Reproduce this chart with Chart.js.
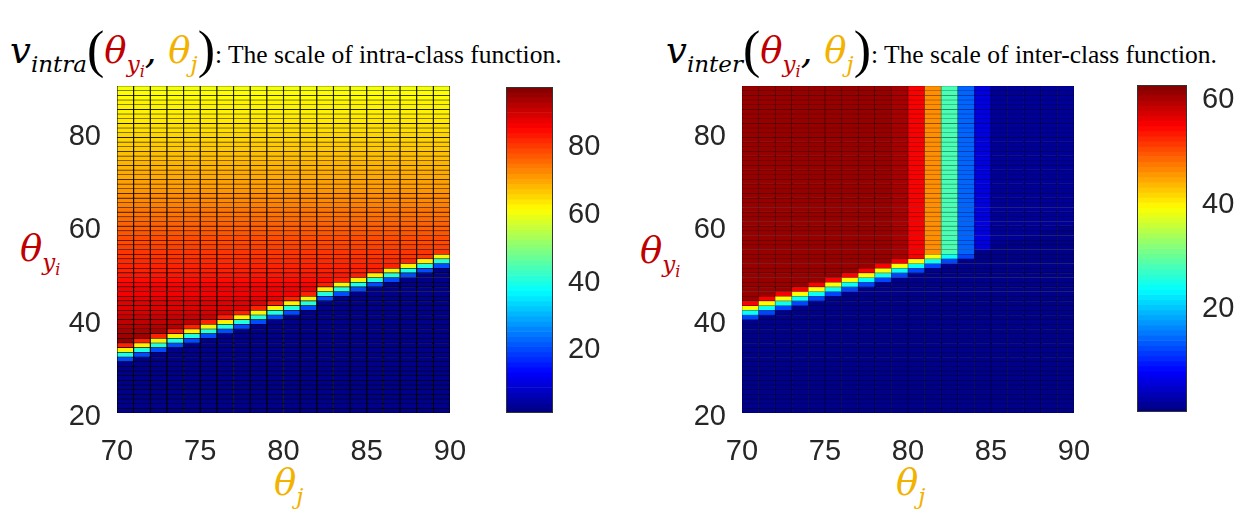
<!DOCTYPE html>
<html>
<head>
<meta charset="utf-8">
<script src="https://cdn.jsdelivr.net/npm/chart.js@4.4.1/dist/chart.umd.min.js"></script>
<style>
  html, body { margin:0; padding:0; background:#fff; }
  body { width:1252px; height:531px; position:relative; overflow:hidden; }
  canvas { position:absolute; }
  .ttl { position:absolute; white-space:nowrap; color:#000; line-height:1; }
  .m { font-family:'DejaVu Serif', serif; font-style:italic; }
  .big { font-size:37px; }
  .sb { font-size:23px; position:relative; top:9px; }
  .ssb { font-size:16px; position:relative; top:5px; }
  .par { font-family:'Liberation Serif', serif; font-size:52px; position:relative; top:4px; }
  .txt { font-family:'Liberation Serif', 'Times New Roman', serif; font-size:25.5px; }
  .red { color:#C00000; }
  .gold { color:#F2B200; }
  .lab { position:absolute; white-space:nowrap; line-height:1; }
</style>
</head>
<body>

<div class="ttl" style="left:10px;top:20px">
  <span class="m big">v</span><span class="m sb">intra</span><span class="par">(</span><span class="m big red">θ</span><span class="m sb red">y<span class="ssb">i</span></span><span class="m big">, </span><span class="m big gold">θ</span><span class="m sb gold">j</span><span class="par">)</span><span class="txt">: The scale of intra-class function.</span>
</div>
<div class="ttl" style="left:666px;top:20px">
  <span class="m big">v</span><span class="m sb">inter</span><span class="par">(</span><span class="m big red">θ</span><span class="m sb red">y<span class="ssb">i</span></span><span class="m big">, </span><span class="m big gold">θ</span><span class="m sb gold">j</span><span class="par">)</span><span class="txt">: The scale of inter-class function.</span>
</div>

<div class="lab m red" style="left:20px;top:230px"><span class="big">θ</span><span class="sb">y<span class="ssb">i</span></span></div>
<div class="lab m red" style="left:640px;top:232px"><span class="big">θ</span><span class="sb">y<span class="ssb">i</span></span></div>
<div class="lab m gold" style="left:274px;top:464px"><span class="big">θ</span><span class="sb">j</span></div>
<div class="lab m gold" style="left:896px;top:464px"><span class="big">θ</span><span class="sb">j</span></div>

<canvas id="intra" width="450" height="420" style="left:20px;top:66px"></canvas>
<canvas id="intraBar" width="140" height="420" style="left:490px;top:66px"></canvas>
<canvas id="inter" width="450" height="420" style="left:640px;top:66px"></canvas>
<canvas id="interBar" width="132" height="420" style="left:1120px;top:66px"></canvas>

<script>
// grid: theta_j columns (left edges) and theta_yi rows (bottom edges)
const thetaJ = [70,71,72,73,74,75,76,77,78,79,80,81,82,83,84,85,86,87,88,89];
const thetaY = [20,21,22,23,24,25,26,27,28,29,30,31,32,33,34,35,36,37,38,39,
                40,41,42,43,44,45,46,47,48,49,50,51,52,53,54,55,56,57,58,59,
                60,61,62,63,64,65,66,67,68,69,70,71,72,73,74,75,76,77,78,79,
                80,81,82,83,84,85,86,87,88,89];
const xTicks = [70,75,80,85,90];
const yTicks = [20,40,60,80];

// v_intra: value of each theta_yi row above the edge (rows 20..31 always under it)
const intraBand = [null,null,null,null,null,null,null,null,null,null,null,null,
                   96,96,95,95,94,93,92,91,
                   90,89,88,88,87,86,86,85,84,83,
                   82,82,81,80,80,79,78,78,77,76,
                   76,75,74,74,73,72,72,71,70,70,
                   69,69,68,68,67,67,66,66,65,65,
                   64,64,63,63,62,62,62,61,61,60];
// theta_yi row of the cyan edge cell, per theta_j column
const intraEdge = [32,33,34,35,36,37,38,39,40,41,42,43,45,46,47,48,49,50,51,52];
const intraStep = [20,40,62,82];   // rows edge-1 .. edge+2
const intraLow = 2;
const intraRange = [1,97];
const intraBarTicks = [20,40,60,80];

// v_inter: value of each theta_j column above the edge
const interCol = [61,61,61,61,61,61,61,61,61,60,55,46,28,14,6,1.5,1.5,1.5,1.5,1.5];
const interEdge = [41,42,43,44,45,46,47,48,49,50,51,52,53,54,56,57,58,59,60,61];
const interStep = [12,24,39,55];
const interLow = 0.5;
const interRange = [0,62.5];
const interBarTicks = [20,40,60];

function jetRGB(v, range) {
  const t = Math.max(0, Math.min(1, (v - range[0]) / (range[1] - range[0])));
  const f = a => 255 * Math.max(0, Math.min(1, a));
  return [f(1.5-Math.abs(4*t-3)), f(1.5-Math.abs(4*t-2)), f(1.5-Math.abs(4*t-1))];
}
const rgb = (c, k) => `rgb(${c.map(a => Math.round(a * k)).join(',')})`;

function intraCell(c, r) {
  const k = thetaY[r] - intraEdge[c] + 1;
  if (k < 0) return intraLow;
  if (k < intraStep.length) return k === 3 ? Math.min(intraStep[k], intraBand[r]) : intraStep[k];
  return intraBand[r];
}
function interCell(c, r) {
  const k = thetaY[r] - interEdge[c] + 1;
  if (k < 0) return interLow;
  if (k < interStep.length) return Math.min(interStep[k], interCol[c]);
  return interCol[c];
}

// Chart.js reserves room for half a label at the axis ends; the layout here is fixed, so drop it
const noEndPad = s => { s.paddingTop = 0; s.paddingBottom = 0; s.paddingLeft = 0; s.paddingRight = 0; };

const boxPlugin = {
  id: 'box',
  afterDatasetsDraw(ch, args, o) {
    if (!o.color) return;
    const a = ch.chartArea, c = ch.ctx;
    c.save(); c.strokeStyle = o.color; c.lineWidth = 1;
    c.strokeRect(a.left + .5, a.top + .5, a.right - a.left - 1, a.bottom - a.top - 1);
    c.restore();
  }
};

const tickFont = { family:'Liberation Sans', size:29 };
const tc = '#262626';

function heatmap(id, cellFn, range, edgeK, bw, yw, pad) {
  const pts = [], cols = [], edges = [];
  thetaJ.forEach((x, c) => thetaY.forEach((y, r) => {
    const col = jetRGB(cellFn(c, r), range);
    pts.push({ x: x + 0.5, y: [y, y + 1] });
    cols.push(rgb(col, 1));
    edges.push(rgb(col, edgeK));
  }));
  new Chart(document.getElementById(id), {
    type: 'bar',
    data: { datasets: [{ data: pts, backgroundColor: cols, borderColor: edges, borderWidth: bw,
      borderSkipped: false, barPercentage: 1, categoryPercentage: 1 }] },
    options: {
      responsive: false, animation: false, events: [],
      layout: { padding: pad },
      plugins: { legend: { display:false }, tooltip: { enabled:false } },
      scales: {
        x: { type:'linear', min:70, max:90, offset:false,
             grid: { display:false, drawTicks:false, offset:false }, border: { display:false },
             afterBuildTicks: s => { s.ticks = xTicks.map(v => ({ value:v })); },
             afterFit: s => { s.height = 73; noEndPad(s); },
             ticks: { color:tc, font:tickFont, padding:22, maxRotation:0, autoSkip:false } },
        y: { type:'linear', min:20, max:90,
             grid: { display:false, drawTicks:false }, border: { display:false },
             afterBuildTicks: s => { s.ticks = yTicks.map(v => ({ value:v })); },
             afterFit: s => { s.width = yw; noEndPad(s); },
             ticks: { color:tc, font:tickFont, padding:16, labelOffset:4, autoSkip:false } }
      }
    }
  });
}

function colorbar(id, range, ticks, w, yw, pad) {
  const n = 64, pts = [], cols = [];
  for (let i = 0; i < n; i++) {
    const lo = range[0] + (range[1] - range[0]) * i / n;
    const hi = range[0] + (range[1] - range[0]) * (i + 1) / n;
    pts.push({ x: 0.5, y: [lo, hi] });
    cols.push(rgb(jetRGB((lo + hi) / 2, range), 1));
  }
  new Chart(document.getElementById(id), {
    type: 'bar',
    data: { datasets: [{ data: pts, backgroundColor: cols, borderWidth: 0, barThickness: w }] },
    plugins: [boxPlugin],
    options: {
      responsive: false, animation: false, events: [],
      layout: { padding: pad },
      plugins: { legend: { display:false }, tooltip: { enabled:false }, box: { color:'#333' } },
      scales: {
        x: { type:'linear', min:0, max:1, offset:false, display:false },
        y: { type:'linear', position:'right', min:range[0], max:range[1],
             grid: { display:false, drawTicks:false }, border: { display:false },
             afterBuildTicks: s => { s.ticks = ticks.map(v => ({ value:v })); },
             afterFit: s => { s.width = yw; noEndPad(s); },
             ticks: { color:tc, font:tickFont, padding:15, labelOffset:2, autoSkip:false } }
      }
    }
  });
}

heatmap('intra', intraCell, intraRange, 0.05,
        { left:0.9, right:0.9, top:0.6, bottom:0.6 }, 97, { left:0, top:20, right:20, bottom:0 });
heatmap('inter', interCell, interRange, 0.5,
        { left:0.7, right:0.7, top:0.6, bottom:0.6 }, 102, { left:0, top:20, right:16, bottom:0 });
colorbar('intraBar', intraRange, intraBarTicks, 47, 77, { left:16, top:21, right:0, bottom:73 });
colorbar('interBar', interRange, interBarTicks, 50, 65, { left:17, top:19, right:0, bottom:74 });
</script>
</body>
</html>
